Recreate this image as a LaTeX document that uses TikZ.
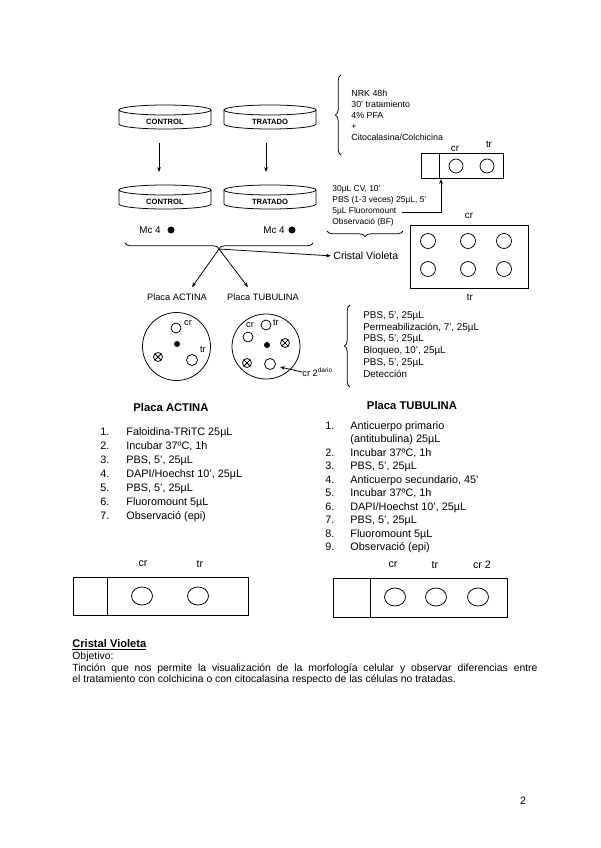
\documentclass[tikz,border=0pt]{standalone}
\usepackage{fontspec}
\setmainfont{Liberation Sans}
\usetikzlibrary{arrows.meta,decorations.pathreplacing}
\newcommand\setfs[2]{\fontsize{#1}{#2}\selectfont}

\begin{document}
\begin{tikzpicture}[x=0.025cm,y=0.025cm,line width=0.55pt,
  >={Stealth[length=3.5pt,width=2.6pt]},
  dishtxt/.style={font=\bfseries\setfs{5.4}{6},inner sep=0pt},
  small/.style={font=\setfs{6.3}{7.8},align=left,inner sep=0pt},
  steps/.style={font=\setfs{6}{7.7},align=left,inner sep=0pt},
  lbl/.style={font=\setfs{6.6}{8},inner sep=0pt},
  body/.style={font=\setfs{7.7}{9.9},inner sep=0pt},
  head/.style={font=\bfseries\setfs{8}{10},inner sep=0pt},
  brace/.style={decorate,decoration={brace,amplitude=4pt}},
  xwell/.pic={\draw (0,0) circle[radius=4.5];
    \draw (-3.2,-3.2) -- (3.2,3.2) (-3.2,3.2) -- (3.2,-3.2);}]
\useasboundingbox[fill=white] (0,0) rectangle (600,-848);

% dishes
\foreach \cx/\ty/\t/\n in {165/110/CONTROL/ctl1,270/110/TRATADO/trt1,
                           165/190/CONTROL/ctl2,270/190/TRATADO/trt2}{
  \draw (\cx,-\ty) ellipse[x radius=46,y radius=5];
  \draw (\cx-46,-\ty) -- (\cx-46,-\ty-14)
    arc[start angle=180,end angle=360,x radius=46,y radius=5] -- (\cx+46,-\ty);
  \node[dishtxt] (\n) at (\cx,-\ty-12) {\t};
}
\draw[->] ([shift={(-6,-21)}]ctl1.center) -- ([shift={(-6,30)}]ctl2.center);
\draw[->] ([shift={(-4,-21)}]trt1.center) -- ([shift={(-4,30)}]trt2.center);

\node[lbl,font=\setfs{7}{8}] (mc1) at (150,-230) {Mc 4};
\fill (171,-230) circle[radius=3.5];
\node[lbl,font=\setfs{7}{8}] (mc2) at (274,-230) {Mc 4};
\fill (292,-230) circle[radius=3.5];

\draw[brace] (313,-243) -- (125,-243);
\coordinate (split) at (219,-249);
\node[lbl] (pact) at (177,-297) {Placa ACTINA};
\node[lbl] (ptub) at (263,-297) {Placa TUBULINA};
\draw[->] (split) -- ([shift={(15,6)}]pact.north);
\draw[->] (split) -- ([shift={(-15,6)}]ptub.north);
\node[lbl,font=\setfs{7.5}{9},anchor=west] (cv) at (333,-256) {Cristal Violeta};
\draw[->,shorten >=1.5pt] (split) -- (cv.west);

% treatment
\draw[brace] (341,-155) -- (341,-75);
\node[small,anchor=west] (nrk) at (351,-115)
  {NRK 48h\\30' tratamiento\\4\% PFA\\+\\Citocalasina/Colchicina};

\draw (421,-153) rectangle (503,-178);
\draw (439,-153) -- (439,-178);
\draw (456,-166) circle[radius=7];
\draw (487,-166) circle[radius=7];
\node[lbl,font=\setfs{7}{8}] (cr1) at (455,-149) {cr};
\node[lbl,font=\setfs{7}{8}] (tr1) at (489,-144) {tr};
\coordinate (s1) at (441,-179);

\node[steps,anchor=west] (cvst) at (332,-206)
  {30µL CV, 10'\\PBS (1-3 veces) 25µL, 5'\\5µL Fluoromount\\Observació (BF)};
\coordinate (fl) at (402,-212);
\draw[->] (fl) -| (s1);
\draw[brace] (403,-231) -- (327,-231);

\draw (410,-225) rectangle (528,-288);
\foreach \wx in {428,468,504}{
  \draw (\wx,-241) circle[radius=7.5];
  \draw (\wx,-269) circle[radius=7.5];
}
\node[lbl,font=\setfs{7}{8}] (cr2) at (469,-216) {cr};
\node[lbl,font=\setfs{7}{8}] (tr2) at (470,-297) {tr};

% plates
\draw (176.5,-346.5) circle[radius=34];
\draw (176,-328) circle[radius=5];
\draw (192,-360) circle[radius=5.5];
\fill (177,-344) circle[radius=3];
\pic at (158,-357) {xwell};
\node[lbl] (pacr) at (188,-323) {cr};
\node[lbl] (patr) at (203,-350) {tr};

\draw (266,-346.5) ellipse[x radius=34,y radius=32.5];
\draw (266,-325) circle[radius=5];
\draw (248,-337) circle[radius=5];
\draw (270,-364) circle[radius=5.5];
\fill (267,-345) circle[radius=3];
\pic at (285,-343) {xwell};
\pic at (247,-363) {xwell};
\node[lbl] (ptcr) at (250,-325) {cr};
\node[lbl] (pttr) at (276,-323) {tr};
\node[lbl,anchor=west] (cr2d) at (302,-372) {cr 2\textsuperscript{dario}};
\coordinate (w2) at (280,-367);
\draw[->] (cr2d.west) -- (w2);

\draw[brace] (350,-387) -- (350,-305);
\node[small,font=\setfs{7}{8.4},anchor=west] (det) at (363,-344.5)
  {PBS, 5', 25µL\\Permeabilización, 7', 25µL\\PBS, 5', 25µL\\Bloqueo, 10', 25µL\\PBS, 5', 25µL\\Detección};

% protocols
\node[head] (hact) at (171,-407) {Placa ACTINA};
\node[body,anchor=west] (lact) at (100,-474.5) {\begin{tabular}{@{}p{18.5pt}@{}l@{}}
  1.&Faloidina-TRiTC 25µL\\
  2.&Incubar 37ºC, 1h\\
  3.&PBS, 5', 25µL\\
  4.&DAPI/Hoechst 10', 25µL\\
  5.&PBS, 5', 25µL\\
  6.&Fluoromount 5µL\\
  7.&Observació (epi)
\end{tabular}};

\node[head] (htub) at (412,-405) {Placa TUBULINA};
\node[body,font=\setfs{7.7}{9.6},anchor=west] (ltub) at (325,-487.5) {\begin{tabular}{@{}p{17.8pt}@{}l@{}}
  1.&Anticuerpo primario\\
    &(antitubulina) 25µL\\
  2.&Incubar 37ºC, 1h\\
  3.&PBS, 5', 25µL\\
  4.&Anticuerpo secundario, 45'\\
  5.&Incubar 37ºC, 1h\\
  6.&DAPI/Hoechst 10', 25µL\\
  7.&PBS, 5', 25µL\\
  8.&Fluoromount 5µL\\
  9.&Observació (epi)
\end{tabular}};

% slides
\draw (73,-577) rectangle (248,-615);
\draw (107,-577) -- (107,-615);
\draw (142,-596) ellipse[x radius=10.5,y radius=9];
\draw (198,-596) ellipse[x radius=10.5,y radius=9];
\node[lbl,font=\setfs{7.6}{9}] (cr3) at (143,-564) {cr};
\node[lbl,font=\setfs{7.6}{9}] (tr3) at (200,-564) {tr};

\draw (333,-578) rectangle (507,-617);
\draw (370,-578) -- (370,-617);
\foreach \wx in {395,436,478}
  \draw (\wx,-597) ellipse[x radius=10.5,y radius=9];
\node[lbl,font=\setfs{7.6}{9}] (cr4) at (393,-565) {cr};
\node[lbl,font=\setfs{7.6}{9}] (tr4) at (435,-565) {tr};
\node[lbl,font=\setfs{7.6}{9}] (cr5) at (482,-565) {cr 2};

% text
\node[anchor=base west,font=\bfseries\setfs{7.9}{9},inner sep=0pt] (cvh) at (72,-647) {\underline{Cristal Violeta}};
\node[anchor=west,font=\setfs{7.4}{8.2},text width=330.8pt,align=justify,inner sep=0pt] (obj) at (72,-668.5)
  {Objetivo:\par Tinción que nos permite la visualización de la morfología celular y observar diferencias entre\linebreak el tratamiento con colchicina o con citocalasina respecto de las células no tratadas.};
\node[lbl,font=\setfs{7.6}{9}] (pg) at (523,-801) {2};
\end{tikzpicture}
\end{document}
